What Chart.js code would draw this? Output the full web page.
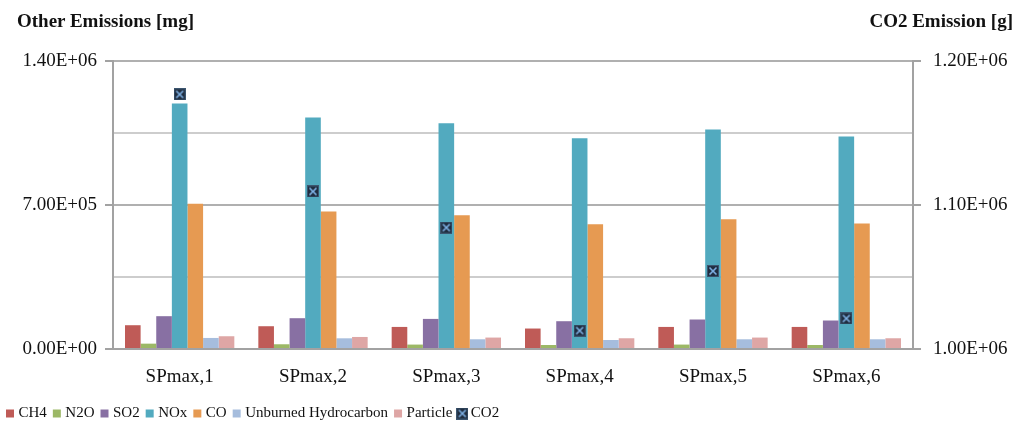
<!DOCTYPE html>
<html>
<head>
<meta charset="utf-8">
<script src="https://cdn.jsdelivr.net/npm/chart.js@4.4.0/dist/chart.umd.min.js"></script>
<style>
  body { margin: 0; background: #fff; }
  #wrap { position: relative; width: 1024px; height: 431px; }
  .ttl { position: absolute; top: 11px; font: bold 19px "Liberation Serif", "Times New Roman", serif; line-height: 20px; color: #111; }
</style>
</head>
<body>
<div id="wrap">
  <canvas id="c" width="1024" height="431"></canvas>
  <div class="ttl" style="left:17px">Other Emissions [mg]</div>
  <div class="ttl" style="right:11px">CO2 Emission [g]</div>
</div>
<script>
var categories = ["SPmax,1", "SPmax,2", "SPmax,3", "SPmax,4", "SPmax,5", "SPmax,6"];

// other emissions [mg], left axis
var ch4 = [115600, 110700, 107300, 99500, 107300, 107300];
var n2o = [26000, 23000, 21500, 19500, 21500, 19500];
var so2 = [159500, 149700, 146300, 135100, 143400, 138500];
var nox = [1194000, 1125000, 1097600, 1024400, 1066800, 1032700];
var co = [706000, 668000, 650700, 606800, 631200, 609800];
var uhc = [53700, 52000, 47300, 43900, 47300, 47300];
var particle = [62000, 58500, 55600, 52200, 55600, 52200];

// CO2 [g], right axis
var co2 = [1176800, 1109400, 1084300, 1012800, 1054100, 1021200];

var leftTicks = [0, 700000, 1400000];
var rightTicks = [1000000, 1100000, 1200000];

function sci(v) {
  var s = Number(v).toExponential(2).split("e");
  var ex = parseInt(s[1], 10);
  var sign = ex < 0 ? "-" : "+";
  ex = Math.abs(ex);
  return s[0] + "E" + sign + (ex < 10 ? "0" + ex : ex);
}

// CO2 marker: dark square with a light blue cross
function marker(n) {
  var mk = document.createElement("canvas");
  mk.width = n; mk.height = n;
  var m = mk.getContext("2d");
  m.fillStyle = "#1f2d40";
  m.fillRect(0, 0, n, n);
  m.strokeStyle = "#3c556f";
  m.lineWidth = 1;
  m.strokeRect(0.5, 0.5, n - 1, n - 1);
  m.strokeStyle = "#7fb2e6";
  m.lineWidth = 1.6;
  m.beginPath();
  m.moveTo(2.5, 2.5); m.lineTo(n - 2.5, n - 2.5);
  m.moveTo(n - 2.5, 2.5); m.lineTo(2.5, n - 2.5);
  m.stroke();
  return mk;
}
var mk = marker(12);

function bar(label, data, color) {
  return {
    type: "bar",
    label: label,
    data: data,
    backgroundColor: color,
    borderColor: color,
    borderWidth: 0,
    pointStyle: "rect",
    yAxisID: "y",
    order: 1
  };
}

var font = { family: "'Liberation Serif', 'Times New Roman', serif", size: 19 };

new Chart(document.getElementById("c"), {
  data: {
    labels: categories,
    datasets: [
      bar("CH4", ch4, "#bf5b57"),
      bar("N2O", n2o, "#9cb866"),
      bar("SO2", so2, "#8870a3"),
      bar("NOx", nox, "#52aabf"),
      bar("CO", co, "#e69a52"),
      bar("Unburned Hydrocarbon", uhc, "#a6bddd"),
      bar("Particle", particle, "#dea6a5"),
      {
        type: "line",
        label: "CO2",
        data: co2,
        showLine: false,
        pointStyle: mk,
        pointRadius: 6,
        yAxisID: "y1",
        order: 0
      }
    ]
  },
  options: {
    responsive: false,
    animation: false,
    devicePixelRatio: 1,
    layout: { padding: { top: 61, left: 0, right: 0, bottom: 0 } },
    datasets: {
      bar: { categoryPercentage: 0.82, barPercentage: 1.0 }
    },
    plugins: {
      tooltip: { enabled: false },
      legend: {
        position: "bottom",
        align: "start",
        labels: {
          usePointStyle: true,
          boxWidth: 2,
          boxHeight: 8,
          padding: 9,
          color: "#111",
          font: { family: "'Liberation Serif', 'Times New Roman', serif", size: 15 },
          sort: function (a, b) { return a.datasetIndex - b.datasetIndex; }
        }
      }
    },
    scales: {
      x: {
        offset: true,
        grid: { display: false },
        border: { display: true, color: "#a2a2a2", width: 2 },
        ticks: { color: "#111", font: font, padding: 9 },
        afterFit: function (s) { s.height = 48; }
      },
      y: {
        position: "left",
        min: 0,
        max: 1400000,
        ticks: {
          stepSize: 350000,
          color: "#111",
          font: font,
          padding: 8,
          callback: function (v) { return leftTicks.indexOf(v) >= 0 ? sci(v) : ""; }
        },
        grid: {
          lineWidth: 2,
          tickLength: 8,
          color: function (c) { return c.tick && leftTicks.indexOf(c.tick.value) >= 0 ? "#b0b0b0" : "#cdcdcd"; },
          tickColor: function (c) { return c.tick && leftTicks.indexOf(c.tick.value) >= 0 ? "#a2a2a2" : "rgba(0,0,0,0)"; }
        },
        border: { color: "#a2a2a2", width: 2 },
        afterFit: function (s) { s.width = 113; }
      },
      y1: {
        position: "right",
        min: 1000000,
        max: 1200000,
        ticks: {
          stepSize: 100000,
          color: "#111",
          font: font,
          padding: 12,
          callback: function (v) { return rightTicks.indexOf(v) >= 0 ? sci(v) : ""; }
        },
        grid: { drawOnChartArea: false, lineWidth: 2, tickLength: 8, color: "#a2a2a2" },
        border: { color: "#a2a2a2", width: 2 },
        afterFit: function (s) { s.width = 111; }
      }
    }
  }
});
</script>
</body>
</html>
